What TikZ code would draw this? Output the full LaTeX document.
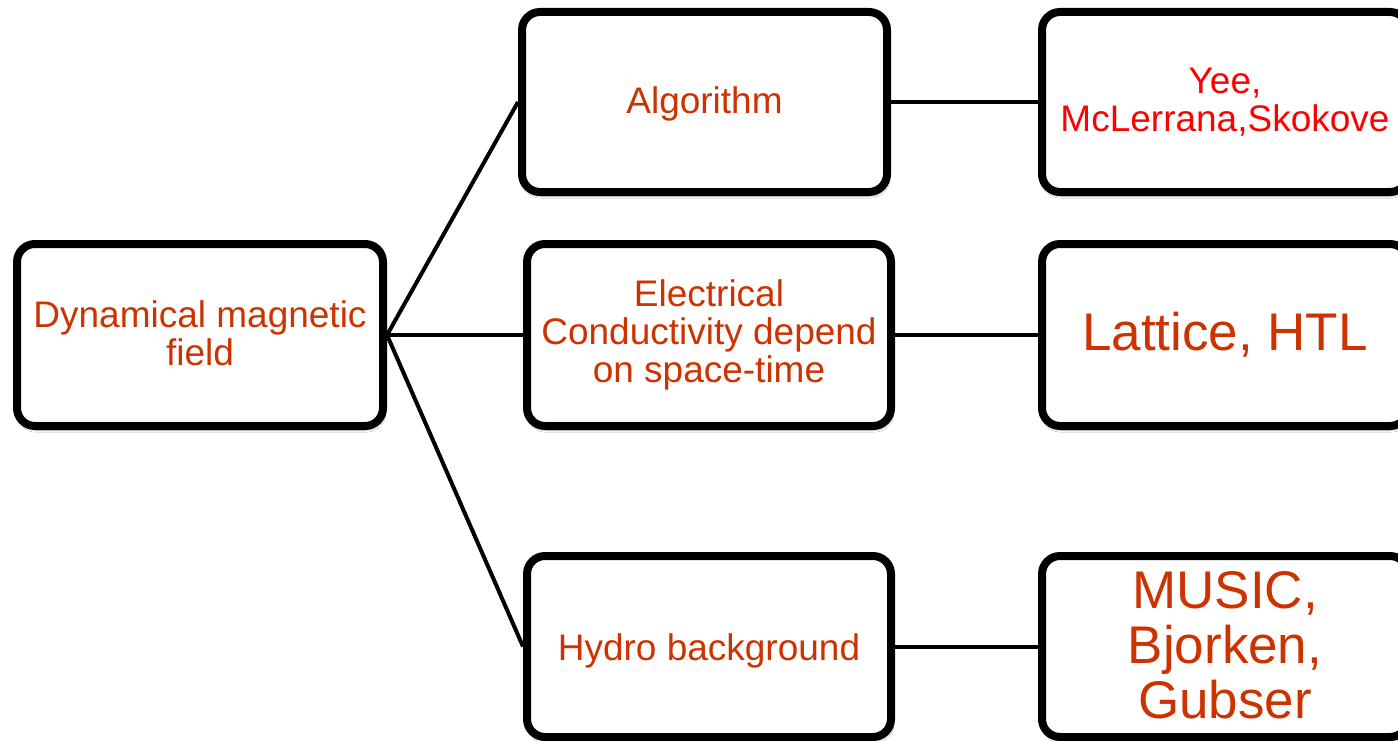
\documentclass[tikz,border=0pt]{standalone}
\usepackage{fontspec}
\setmainfont{Liberation Sans}
\usetikzlibrary{shadows.blur}
\definecolor{txtorange}{HTML}{CC3300}
\definecolor{txtred}{HTML}{FF0000}
\tikzset{
  box/.style={draw=black, line width=8pt, rounded corners=18pt, fill=white,
    align=center, text=txtorange, inner sep=0pt,
    blur shadow={shadow xshift=1pt, shadow yshift=-4pt, shadow opacity=35, shadow blur steps=6}},
  midtext/.style={font=\fontsize{37}{38}\selectfont},
  bigtext/.style={font=\fontsize{53}{55}\selectfont},
  % extra room above the first line / below the last line of a label
  toproom/.style={execute at begin node={\rule{0pt}{#1}}},
  botroom/.style={execute at end node={\rule[-#1]{0pt}{0pt}}},
  link/.style={draw=black, line width=4pt}
}
\begin{document}
\begin{tikzpicture}[x=1pt, y=-1pt]
  \useasboundingbox (0,0) rectangle (1398,741);
  \fill[white] (0,0) rectangle (1398,741);
  \clip (0,0) rectangle (1398,741);

  % root
  \node[box, midtext, botroom=4pt, minimum width=366pt, minimum height=182pt] (root) at (200,335)
    {Dynamical magnetic\\field};

  % middle column
  \node[box, midtext, toproom=31.5pt, minimum width=365pt, minimum height=180pt] (alg) at (704.5,102)
    {Algorithm};
  \node[box, midtext, toproom=32.5pt, minimum width=364pt, minimum height=182pt] (cond) at (709,335)
    {Electrical\\Conductivity depend\\on space-time};
  \node[box, midtext, toproom=36.5pt, minimum width=364pt, minimum height=181pt] (hydro) at (709,646.5)
    {Hydro background};

  % right column
  \node[box, text=txtred, font=\fontsize{37}{38}\selectfont, toproom=29pt,
        minimum width=366pt, minimum height=180pt] (yee) at (1225,102)
    {Yee,\\McLerrana,Skokove};
  \node[box, bigtext, minimum width=366pt, minimum height=182pt] (latt) at (1225,335)
    {Lattice, HTL};
  \node[box, bigtext, botroom=4pt,
        minimum width=366pt, minimum height=181pt] (music) at (1225,646.5)
    {MUSIC,\\Bjorken,\\Gubser};

  % connectors
  \draw[link] (root.east) -- (alg.west);
  \draw[link] (root.east) -- (cond.west);
  \draw[link] (root.east) -- (hydro.west);
  \draw[link] (alg.east) -- (yee.west);
  \draw[link] (cond.east) -- (latt.west);
  \draw[link] (hydro.east) -- (music.west);
\end{tikzpicture}
\end{document}
